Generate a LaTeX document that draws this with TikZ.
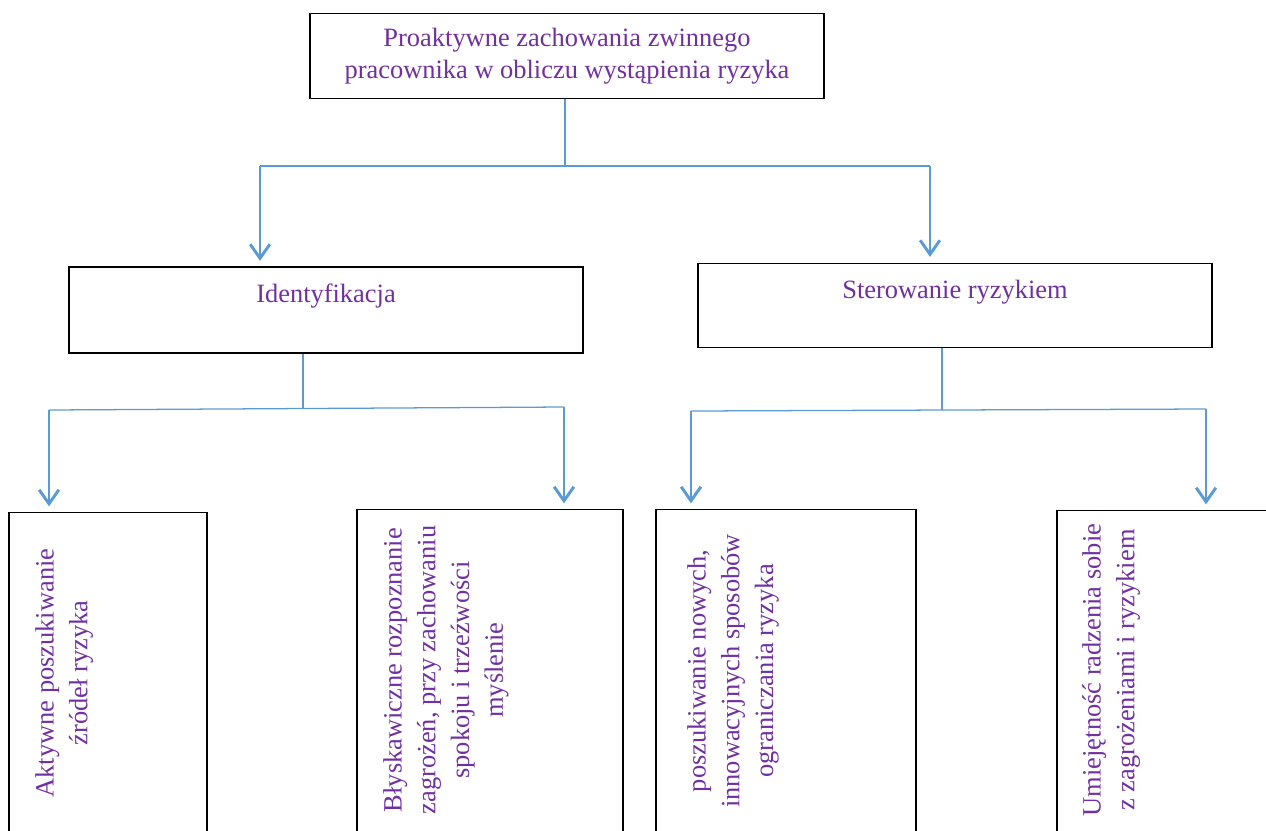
\documentclass[tikz,border=0pt]{standalone}
\usepackage{fontspec}
\setmainfont{Liberation Serif}
\usetikzlibrary{arrows.meta}
\definecolor{txtpurple}{HTML}{7030A0}
\definecolor{linkblue}{HTML}{5B9BD5}
\begin{document}
\begin{tikzpicture}[x=0.025cm,y=-0.025cm,
    every node/.style={font=\fontsize{18.8}{24}\selectfont,text=txtpurple,inner sep=0pt},
    framebox/.style={draw=black,line width=0.9pt},
    vtext/.style={rotate=90,anchor=north,align=center},
    thinlink/.style={draw=linkblue,line width=0.9pt},
    arrowlink/.style={draw=linkblue,line width=2.1pt,shorten >=4pt,-{Straight Barb[length=10pt,width=14pt]}}]
    \useasboundingbox (0,0) rectangle (1266,830);
    \clip (0,0) rectangle (1266,830);
    % top box
    \node[framebox,align=center,font=\fontsize{18.8}{22.7}\selectfont,minimum width=12.85cm,minimum height=2.125cm] (root) at (567,56)
        {Proaktywne zachowania zwinnego\\pracownika w obliczu wystąpienia ryzyka};
    % second level, text sits above centre
    \node[framebox,minimum width=12.85cm,text height=25.5pt,text depth=35.5pt] (ident) at (326,310) {Identyfikacja};
    \node[framebox,minimum width=12.85cm,text height=24.8pt,text depth=35.4pt] (ster) at (955,305.5) {Sterowanie ryzykiem};
    % bottom boxes run past the lower edge
    \node[framebox,anchor=north,minimum width=4.95cm,minimum height=8.5cm] (b1) at (108,512) {};
    \node[framebox,anchor=north,minimum width=6.65cm,minimum height=8.5cm] (b2) at (490,509) {};
    \node[framebox,anchor=north,minimum width=6.5cm,minimum height=8.5cm] (b3) at (786,509) {};
    \node[framebox,anchor=north,minimum width=6.5cm,minimum height=8.5cm] (b4) at (1187,510) {};
    \node[vtext] (t1) at (35,673) {Aktywne poszukiwanie\\źródeł ryzyka};
    \node[vtext] (t2) at (383,670) {Błyskawiczne rozpoznanie\\zagrożeń, przy zachowaniu\\spokoju i trzeźwości\\myślenie};
    \node[vtext] (t3) at (687,671) {poszukiwanie nowych,\\innowacyjnych sposobów\\ograniczania ryzyka};
    \node[vtext] (t4) at (1082,670) {Umiejętność radzenia sobie\\z zagrożeniami i ryzykiem};
    % joints of the connectors
    \coordinate (rj) at (565,166);
    \coordinate (rl) at (260,166);
    \coordinate (rr) at (930,166);
    \coordinate (ij) at (303,408.5);
    \coordinate (il) at (49,410);
    \coordinate (ir) at (564,407);
    \coordinate (sj) at (942,410);
    \coordinate (sl) at (691,411);
    \coordinate (sr) at (1206,409);
    % root to second level
    \draw[thinlink] (rj |- root.south) -- (rj);
    \draw[thinlink] (rl) -- (rr);
    \draw[arrowlink] (rl) -- (rl |- ident.north);
    \draw[arrowlink] (rr) -- (rr |- ster.north);
    % second level to bottom boxes
    \draw[thinlink] (ij |- ident.south) -- (ij);
    \draw[thinlink] (il) -- (ir);
    \draw[arrowlink] (il) -- (il |- b1.north);
    \draw[arrowlink] (ir) -- (ir |- b2.north);
    \draw[thinlink] (sj |- ster.south) -- (sj);
    \draw[thinlink] (sl) -- (sr);
    \draw[arrowlink] (sl) -- (sl |- b3.north);
    \draw[arrowlink] (sr) -- (sr |- b4.north);
\end{tikzpicture}
\end{document}
